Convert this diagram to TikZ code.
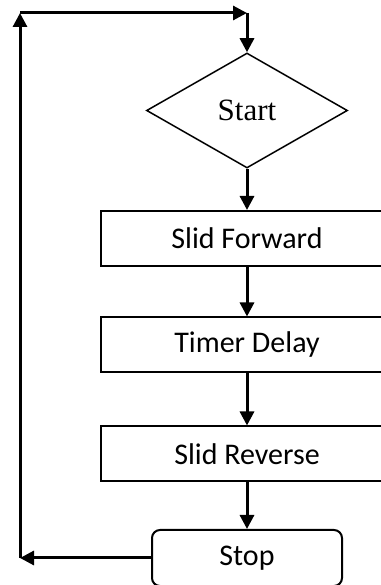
\documentclass[tikz,border=0pt]{standalone}
\usepackage{fontspec}
\setmainfont{Carlito}
\newfontfamily\startfont{Liberation Serif}
\usetikzlibrary{shapes.geometric,arrows.meta}

\begin{document}
\begin{tikzpicture}[x=0.5pt, y=0.5pt, >={Triangle[length=7pt,width=7pt]},
        stepbox/.style={draw, line width=1pt, minimum width=146pt, minimum height=27.5pt,
            font=\fontsize{15}{18}\selectfont},
        flow/.style={->, line width=1.5pt}]
    \useasboundingbox (0,0) rectangle (381,585);
    \clip (0,0) rectangle (381,585);
    % decision and steps
    \node[draw, diamond, line width=0.75pt, minimum width=100.5pt, minimum height=57.5pt,
          inner sep=0pt, font=\startfont\fontsize{15.5}{18}\selectfont] (start) at (247,474.5) {Start};
    \node[stepbox] (fwd) at (247,346.5) {Slid Forward};
    \node[stepbox] (delay) at (247,240) {Timer Delay};
    \node[stepbox] (rev) at (247,131) {Slid Reverse};
    \node[draw, rounded corners=4pt, line width=1pt, minimum width=95pt, minimum height=28pt,
          font=\fontsize{15}{18}\selectfont] (stop) at (247,27) {Stop};
    % loop corners
    \coordinate (bl) at (20,27);
    \coordinate (tl) at (20,572);
    \coordinate (tr) at (247,572);
    \draw[flow] (start) -- (fwd);
    \draw[flow] (fwd) -- (delay);
    \draw[flow] (delay) -- (rev);
    \draw[flow] (rev) -- (stop);
    \draw[flow] (stop) -- (bl);
    \draw[flow] (bl) -- (tl);
    \draw[flow] (tl) -- (tr);
    \draw[flow] (tr) -- (start);
\end{tikzpicture}
\end{document}
